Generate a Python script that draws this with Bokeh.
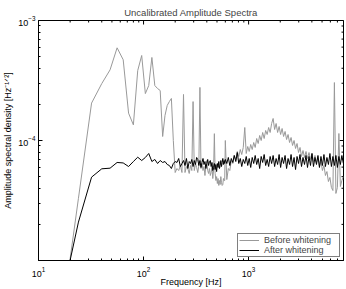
import math
from bokeh.plotting import figure
from bokeh.models import FixedTicker, Legend, LegendItem, Range1d
from bokeh.embed import file_html
from bokeh.resources import INLINE

# ---- data ----
freq_low = [16, 24, 32, 40, 48, 56, 64, 72, 80, 88,
            96, 104, 112, 120, 128, 136, 144, 152, 160, 168,
            176, 184, 192, 200, 208, 216, 224, 232, 240, 248,
            256, 264, 272, 280, 288, 296, 304, 312, 320, 328,
            336, 344, 352, 360, 368, 376, 384, 392, 400, 408,
            416, 424, 432, 440, 448, 456, 464, 472, 480, 488,
            496, 504, 512, 520, 528, 536, 544, 552, 560, 568,
            576, 584, 592, 600]
freq_high = [620, 641, 662, 684, 707, 730, 755, 780, 806, 833,
             860, 889, 919, 949, 981, 1013, 1047, 1082, 1118, 1155,
             1193, 1233, 1274, 1317, 1361, 1406, 1453, 1501, 1551, 1603,
             1656, 1711, 1768, 1827, 1888, 1951, 2016, 2083, 2152, 2224,
             2298, 2374, 2453, 2535, 2619, 2707, 2797, 2890, 2986, 3085,
             3188, 3294, 3404, 3518, 3635, 3756, 3881, 4010, 4143, 4281,
             4424, 4571, 4724, 4881, 5043, 5211, 5385, 5564, 5749, 5941,
             6138, 6343, 6554, 6772, 6998, 7231, 7471, 7720, 7977]

before_low = [2.5e-6, 3.3e-5, 2.05e-4, 2.98e-4, 3.88e-4, 5.92e-4, 4.71e-4, 1.69e-4, 1.35e-4, 3.83e-4,
              5.11e-4, 2.46e-4, 2.87e-4, 4.92e-4, 2.87e-4, 2.71e-4, 2.61e-4, 1.08e-4, 1.62e-4, 1.96e-4,
              2.11e-4, 2.24e-4, 1.0e-4, 5.41e-5, 5.84e-5, 5.62e-5, 6.19e-5, 5.41e-5, 2.42e-4, 5.41e-5,
              6.07e-5, 5.84e-5, 5.31e-5, 6.19e-5, 5.62e-5, 2.11e-4, 5.62e-5, 6.43e-5, 5.96e-5, 5.41e-5,
              6.19e-5, 2.77e-4, 5.84e-5, 6.43e-5, 5.62e-5, 6.07e-5, 5.11e-5, 6.19e-5, 6.81e-5, 5.62e-5,
              5.31e-5, 5.84e-5, 5.11e-5, 5.41e-5, 6.07e-5, 4.82e-5, 5.62e-5, 1.14e-4, 5.31e-5, 4.64e-5,
              5.0e-5, 4.38e-5, 4.82e-5, 4.22e-5, 4.64e-5, 4.3e-5, 5.0e-5, 4.45e-5, 4.22e-5, 4.3e-5,
              4.82e-5, 4.64e-5, 4.64e-5, 1.0e-4]
before_high = [4.73e-5, 5.84e-5, 5.62e-5, 6.81e-5, 6.43e-5, 7.50e-5, 6.95e-5, 8.10e-5, 7.36e-5, 8.41e-5,
               7.64e-5, 8.75e-5, 1.283e-4, 7.79e-5, 8.91e-5, 8.10e-5, 9.26e-5, 8.41e-5, 9.62e-5, 8.75e-5,
               1.039e-4, 9.44e-5, 1.101e-4, 1.0e-4, 1.166e-4, 1.039e-4, 1.212e-4, 1.122e-4, 1.283e-4, 1.166e-4,
               1.386e-4, 1.526e-4, 1.235e-4, 1.386e-4, 1.166e-4, 1.308e-4, 1.122e-4, 1.259e-4, 1.080e-4, 1.189e-4,
               1.019e-4, 1.122e-4, 9.62e-5, 1.059e-4, 9.09e-5, 1.0e-4, 8.58e-5, 9.44e-5, 7.94e-5, 8.75e-5,
               7.36e-5, 8.25e-5, 7.22e-5, 8.10e-5, 7.08e-5, 7.94e-5, 6.95e-5, 7.79e-5, 6.68e-5, 7.50e-5,
               6.56e-5, 7.22e-5, 6.07e-5, 6.68e-5, 5.62e-5, 6.19e-5, 5.11e-5, 5.51e-5, 4.55e-5, 4.92e-5,
               4.06e-5, 3.83e-5, 3.04e-4, 3.62e-5, 4.06e-5, 1.144e-4, 4.14e-5, 4.64e-5, 5.01e-5]

after_low = [4.1e-6, 2.09e-5, 4.95e-5, 5.81e-5, 5.88e-5, 6.56e-5, 6.50e-5, 6.07e-5, 6.68e-5, 7.26e-5,
             6.81e-5, 7.22e-5, 7.79e-5, 6.68e-5, 6.95e-5, 6.43e-5, 6.81e-5, 6.56e-5, 6.68e-5, 6.31e-5,
             6.19e-5, 5.84e-5, 6.43e-5, 6.68e-5, 6.56e-5, 7.08e-5, 6.07e-5, 6.43e-5, 6.81e-5, 6.19e-5,
             7.08e-5, 5.84e-5, 6.68e-5, 6.43e-5, 6.95e-5, 6.07e-5, 6.81e-5, 6.31e-5, 7.22e-5, 6.95e-5,
             6.19e-5, 6.81e-5, 5.96e-5, 6.56e-5, 7.08e-5, 6.31e-5, 6.68e-5, 5.84e-5, 6.43e-5, 6.95e-5,
             6.19e-5, 6.68e-5, 6.81e-5, 6.07e-5, 6.56e-5, 5.62e-5, 5.96e-5, 6.43e-5, 5.73e-5, 6.31e-5,
             5.51e-5, 6.43e-5, 5.96e-5, 6.68e-5, 5.84e-5, 6.19e-5, 6.81e-5, 6.07e-5, 6.56e-5, 7.08e-5,
             6.31e-5, 6.81e-5, 6.43e-5, 6.95e-5]
after_high = [6.43e-5, 7.22e-5, 6.19e-5, 7.08e-5, 6.56e-5, 7.50e-5, 6.68e-5, 7.94e-5, 6.43e-5, 7.08e-5,
              6.07e-5, 6.95e-5, 6.43e-5, 7.36e-5, 6.19e-5, 7.08e-5, 5.96e-5, 7.22e-5, 6.43e-5, 7.50e-5,
              6.31e-5, 7.08e-5, 5.84e-5, 7.36e-5, 6.56e-5, 7.64e-5, 6.19e-5, 6.95e-5, 6.07e-5, 7.36e-5,
              6.43e-5, 7.50e-5, 6.07e-5, 7.08e-5, 6.31e-5, 7.64e-5, 5.96e-5, 7.22e-5, 6.43e-5, 7.50e-5,
              5.84e-5, 7.08e-5, 6.31e-5, 7.64e-5, 6.07e-5, 7.22e-5, 5.73e-5, 7.36e-5, 6.43e-5, 7.64e-5,
              6.07e-5, 7.22e-5, 6.31e-5, 7.50e-5, 5.96e-5, 7.36e-5, 6.19e-5, 7.79e-5, 6.07e-5, 7.22e-5,
              6.31e-5, 7.50e-5, 5.96e-5, 7.36e-5, 6.19e-5, 7.64e-5, 6.07e-5, 7.22e-5, 6.31e-5, 7.79e-5,
              6.07e-5, 7.36e-5, 6.19e-5, 7.50e-5, 5.96e-5, 7.36e-5, 6.31e-5, 7.50e-5, 6.43e-5]

freq_hz = freq_low + freq_high
before_whitening = before_low + before_high
after_whitening = after_low + after_high

x_lim = [10, 8000]
y_lim = [1e-5, 1e-3]
x_major_ticks = [10, 100, 1000]
x_minor_ticks = [20, 30, 40, 50, 60, 70, 80, 90, 200, 300, 400, 500, 600, 700, 800, 900,
                 2000, 3000, 4000, 5000, 6000, 7000, 8000]
y_major_ticks = [1e-4, 1e-3]
y_minor_ticks = [2e-5, 3e-5, 4e-5, 5e-5, 6e-5, 7e-5, 8e-5, 9e-5,
                 2e-4, 3e-4, 4e-4, 5e-4, 6e-4, 7e-4, 8e-4, 9e-4]

title_text = "Uncalibrated Amplitude Spectra"
x_label = "Frequency [Hz]"
y_label = "Amplitude spectral density [Hz\u207b\u00b9\u141f\u00b2]"
legend_labels = ["Before whitening", "After whitening"]

FONT = "Liberation Sans"

p = figure(width=346, height=289, x_axis_type="log", y_axis_type="log",
           x_range=Range1d(*x_lim), y_range=Range1d(*y_lim),
           output_backend="svg", toolbar_location=None,
           title=title_text,
           min_border_left=38, min_border_right=3, min_border_top=20, min_border_bottom=28)

p.title.align = "center"
p.title.text_font = FONT
p.title.text_font_size = "9.5px"
p.title.text_font_style = "normal"
p.title.standoff = 5

p.xgrid.visible = False
p.ygrid.visible = False
p.outline_line_color = "black"
p.outline_line_width = 1
p.background_fill_color = "white"
p.border_fill_color = "white"

def style_axis(ax, ticks, minor, label, lab_standoff, axlab_standoff):
    ax.ticker = FixedTicker(ticks=ticks, minor_ticks=minor)
    ax.axis_line_color = "black"
    ax.major_tick_line_color = "black"
    ax.minor_tick_line_color = "black"
    ax.major_tick_in = 4
    ax.major_tick_out = 0
    ax.minor_tick_in = 2
    ax.minor_tick_out = 0
    ax.major_label_text_font = FONT
    ax.major_label_text_font_size = "9px"
    ax.major_label_text_color = "black"
    ax.axis_label_text_font = FONT
    ax.axis_label_text_font_size = "9px"
    ax.axis_label_text_font_style = "normal"
    ax.axis_label_text_color = "black"
    ax.major_label_standoff = lab_standoff
    ax.axis_label = label
    ax.axis_label_standoff = axlab_standoff

style_axis(p.xaxis[0], x_major_ticks, x_minor_ticks, x_label, 6, -3)
p.xaxis[0].axis_label_text_line_height = 0.6
style_axis(p.yaxis[0], y_major_ticks, y_minor_ticks, y_label, 3, 2)

# tick marks on the top and right edges of the box (drawn on the frame edge, half clipped)
p.scatter(x_major_ticks, [y_lim[1]] * len(x_major_ticks), marker="dash", angle=math.pi / 2,
          size=8, line_color="black", line_width=1)
p.scatter(x_minor_ticks, [y_lim[1]] * len(x_minor_ticks), marker="dash", angle=math.pi / 2,
          size=4, line_color="black", line_width=1)
p.scatter([x_lim[1]] * len(y_major_ticks), y_major_ticks, marker="dash",
          size=8, line_color="black", line_width=1)
p.scatter([x_lim[1]] * len(y_minor_ticks), y_minor_ticks, marker="dash",
          size=4, line_color="black", line_width=1)

r_before = p.line(freq_hz, before_whitening, line_color="#999999", line_width=1)
r_after = p.line(freq_hz, after_whitening, line_color="black", line_width=1)

legend = Legend(items=[LegendItem(label=legend_labels[0], renderers=[r_before]),
                       LegendItem(label=legend_labels[1], renderers=[r_after])],
                location="bottom_right")
legend.label_text_font = FONT
legend.label_text_font_size = "9px"
legend.label_height = 10
legend.label_width = 74
legend.glyph_height = 10
legend.glyph_width = 20
legend.label_standoff = 5
legend.padding = 1
legend.spacing = 0
legend.margin = 3
legend.border_line_color = "black"
legend.border_line_width = 1
legend.background_fill_color = "white"
legend.background_fill_alpha = 1
p.add_layout(legend)

open("out.html", "w").write(file_html(p, INLINE))
